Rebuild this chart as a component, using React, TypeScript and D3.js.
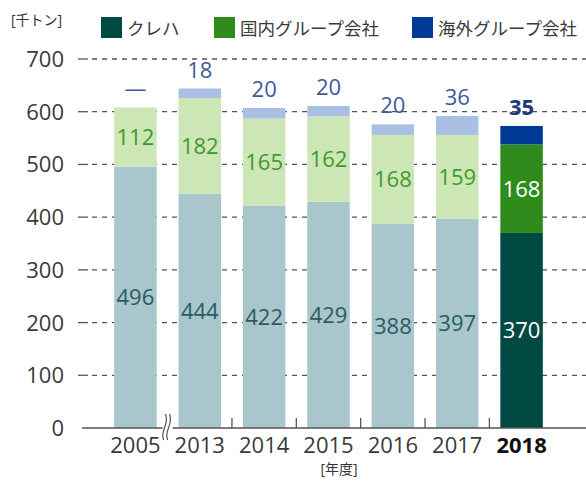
import React from "react";
import * as d3 from "d3";

const years = ["2005", "2013", "2014", "2015", "2016", "2017", "2018"];
const kureha = [496, 444, 422, 429, 388, 397, 370];
const domestic = [112, 182, 165, 162, 168, 159, 168];
const overseas = [0, 18, 20, 20, 20, 36, 35];
const overseasLabels = ["—", "18", "20", "20", "20", "36", "35"];
const yTicks = [0, 100, 200, 300, 400, 500, 600, 700];
const legendItems = ["クレハ", "国内グループ会社", "海外グループ会社"];

const W = 586;
const H = 482;
const FONT = "'Open Sans', 'Noto Sans CJK JP', sans-serif";

export default function App() {
  const y = d3.scaleLinear().domain([0, 700]).range([428, 59]);
  const x = d3.scaleBand().domain(years).range([82, 575]).paddingInner(0.34).paddingOuter(0.5);
  const bw = x.bandwidth();
  const last = years.length - 1;

  const light = ["#a8c6cc", "#cde6b6", "#aabfe4"];
  const dark = ["#004a44", "#2f8c1c", "#003a97"];
  const legendColors = dark;
  const legendX = [101, 214, 412];

  return (
    <svg width={W} height={H} style={{ position: "absolute", left: 0, top: 0 }} fontFamily={FONT}>
      <rect width={W} height={H} fill="#fff" />
      {/* unit */}
      <text x={11} y={25} fontSize={14} fill="#333">[千トン]</text>
      {/* legend */}
      {legendItems.map((t, i) => (
        <g key={t}>
          <rect x={legendX[i]} y={17} width={21} height={21} fill={legendColors[i]} />
          <text x={legendX[i] + 26} y={35} fontSize={17.5} fill="#3a3a3a">{t}</text>
        </g>
      ))}
      {/* gridlines */}
      {yTicks.filter((t) => t > 0).map((t) => (
        <g key={t}>
          <line x1={78} x2={88} y1={y(t)} y2={y(t)} stroke="#555" strokeWidth={1.3} />
          <line x1={92} x2={586} y1={y(t)} y2={y(t)} stroke="#555" strokeWidth={1.3} strokeDasharray="5,5" />
        </g>
      ))}
      {yTicks.map((t) => (
        <text key={t} x={64} y={y(t) + 8} fontSize={22} textAnchor="end" fill="#3a3a3a">{t}</text>
      ))}
      {/* bars */}
      {years.map((yr, i) => {
        const cols = i === last ? dark : light;
        const x0 = x(yr)!;
        const b1 = kureha[i];
        const b2 = b1 + domestic[i];
        const b3 = b2 + overseas[i];
        return (
          <g key={yr}>
            <rect x={x0} y={y(b1)} width={bw} height={y(0) - y(b1)} fill={cols[0]} />
            <rect x={x0} y={y(b2)} width={bw} height={y(b1) - y(b2)} fill={cols[1]} />
            {overseas[i] > 0 && (
              <rect x={x0} y={y(b3)} width={bw} height={y(b2) - y(b3)} fill={cols[2]} />
            )}
            <text x={x0 + bw / 2} y={y(b1 / 2) + 8} fontSize={22} textAnchor="middle"
              fill={i === last ? "#fff" : "#2b5b5d"}>{kureha[i]}</text>
            <text x={x0 + bw / 2} y={y((b1 + b2) / 2) + 8} fontSize={22} textAnchor="middle"
              fill={i === last ? "#fff" : "#3f9a2b"}>{domestic[i]}</text>
            <text x={x0 + bw / 2} y={y(b3) - 11} fontSize={22} textAnchor="middle"
              fontWeight={i === last ? 700 : 400}
              fill={i === last ? "#1b3a7c" : "#3d5b99"}>{overseasLabels[i]}</text>
          </g>
        );
      })}
      {/* baseline */}
      <line x1={82} x2={586} y1={y(0)} y2={y(0)} stroke="#555" strokeWidth={1.3} />
      {years.slice(1, -1).map((yr) => {
        const xt = x(yr)! + bw + (x.step() - bw) / 2;
        return <line key={yr} x1={xt} x2={xt} y1={y(0)} y2={y(0) - 10} stroke="#555" strokeWidth={1.3} />;
      })}
      {/* break mark */}
      {(() => {
        const xb = x(years[0])! + bw + (x.step() - bw) / 2;
        const path = (dx: number) =>
          `M${xb + dx - 2},${y(0) + 12} C${xb + dx - 6},${y(0) + 2} ${xb + dx + 4},${y(0) - 2} ${xb + dx},${y(0) - 14}`;
        return (
          <g>
            <rect x={xb - 5} y={y(0) - 14} width={10} height={28} fill="#fff" />
            <path d={path(-2)} fill="none" stroke="#555" strokeWidth={1.2} />
            <path d={path(2)} fill="none" stroke="#555" strokeWidth={1.2} />
          </g>
        );
      })()}
      {/* x labels */}
      {years.map((yr, i) => (
        <text key={yr} x={x(yr)! + bw / 2} y={453} fontSize={22} textAnchor="middle"
          fontWeight={i === last ? 700 : 400} fill={i === last ? "#111" : "#3a3a3a"}>{yr}</text>
      ))}
      <text x={339} y={474} fontSize={14} textAnchor="middle" fill="#333">[年度]</text>
    </svg>
  );
}
